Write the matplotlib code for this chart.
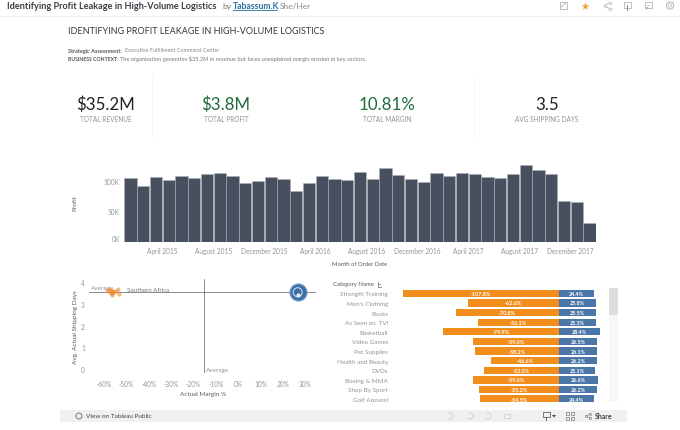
import matplotlib
matplotlib.use("Agg")
import matplotlib.pyplot as plt
from matplotlib.patches import Rectangle, Circle, Arc, Polygon
from matplotlib.transforms import Bbox

plt.rcParams['font.family'] = ['Lato', 'Open Sans', 'DejaVu Sans']

profit_k = [104.9, 91.8, 106.6, 101, 108, 105, 111.5, 113, 108.7, 96, 99.5, 106, 102.7,
            83, 96.7, 108, 104, 101, 114.8, 103.8, 121, 110, 102.7, 98, 113, 109, 113,
            111, 106.6, 105, 111, 126, 117.5, 111.5, 66.7, 65, 31.7]
month_ticks = [3, 7, 11, 15, 19, 23, 27, 31, 35]
month_labels = ['April 2015', 'August 2015', 'December 2015', 'April 2016', 'August 2016',
                'December 2016', 'April 2017', 'August 2017', 'December 2017']
profit_ticks = [0, 50, 100]
profit_labels = ['0K', '50K', '100K']

orange_margin = [-58.8, -58, -57.4, -57, -56.5, -56.1, -55.5, -54.8, -54, -53.4, -57.2, -56.6]
orange_days = [3.62, 3.7, 3.55, 3.62, 3.48, 3.6, 3.55, 3.6, 3.68, 3.45, 3.5, 3.42]
avg_margin = -15.3
avg_days = 3.53
blue_margin = 26.7
blue_days = 3.53
margin_ticks = [-60, -50, -40, -30, -20, -10, 0, 10, 20, 30]
days_ticks = [0, 1, 2, 3, 4]

categories = ['Strength Training', "Men's Clothing", 'Books', 'As Seen on  TV!', 'Basketball',
              'Video Games', 'Pet Supplies', 'Health and Beauty', 'DVDs', 'Boxing & MMA',
              'Shop By Sport', 'Golf Apparel']
neg_margin = [-107.8, -62.6, -70.8, -56.1, -79.9, -59.0, -58.2, -46.6, -52.0, -59.6, -55.2, -54.5]
pos_margin = [24.4, 25.8, 25.5, 25.3, 28.4, 26.5, 26.1, 26.2, 25.1, 26.6, 26.2, 24.4]

kpi_values = ['$35.2M', '$3.8M', '10.81%', '3.5']
kpi_names = ['TOTAL REVENUE', 'TOTAL PROFIT', 'TOTAL MARGIN', 'AVG SHIPPING DAYS']

W, H = 680, 431
GREY = '#8f9499'
DARK = '#555a60'
NAVY = '#484f5e'
ORANGE = '#f28e1c'
BLUE = '#4a76a8'
GREEN = '#1f6b3a'

fig = plt.figure(figsize=(W / 100, H / 100), dpi=100, facecolor='white')


def ax_px(l, t, r, b, **kw):
    return fig.add_axes([l / W, 1 - b / H, (r - l) / W, (b - t) / H], **kw)


def clean(ax):
    for s in ax.spines.values():
        s.set_visible(False)
    ax.patch.set_alpha(0)


# overlay in pixel coordinates for page furniture
pg = ax_px(0, 0, W, H)
pg.set_xlim(0, W)
pg.set_ylim(H, 0)
pg.axis('off')

pg.text(7, 6.5, 'Identifying Profit Leakage in High-Volume Logistics', fontsize=6.6,
        fontweight='bold', color='#3a3f45', va='center')
pg.text(222, 6.5, 'by', fontsize=6.0, color='#777', va='center')
pg.text(233, 6.5, 'Tabassum.K', fontsize=6.2, color='#2b6f9e', va='center', fontweight='bold')
pg.plot([233, 277], [10.5, 10.5], color='#2b6f9e', lw=0.6)
pg.text(280, 6.5, 'She/Her', fontsize=6.0, color='#888', va='center')
pg.plot([0, W], [16.5, 16.5], color='#f0f0f0', lw=0.8)

pg.text(68, 32, 'IDENTIFYING PROFIT LEAKAGE IN HIGH-VOLUME LOGISTICS', fontsize=6.45,
        color='#33383d', va='center')
pg.text(68, 51, 'Strategic Assessment:', fontsize=4.0, fontweight='bold', color='#555', va='center')
pg.text(125, 51, 'Executive Fulfillment Command Center', fontsize=4.0, color='#888', va='center')
pg.text(68, 59.5, 'BUSINESS CONTEXT:', fontsize=3.7, fontweight='bold', color='#555', va='center')
pg.text(119.5, 59.5, 'The organization generates $35.2M in revenue but faces unexplained margin erosion in key sectors.',
        fontsize=4.1, color='#777', va='center')

for x, v, n, c in zip([105.5, 226, 387, 547], kpi_values, kpi_names,
                      ['#222222', GREEN, GREEN, '#222222']):
    pg.text(x, 105, v, fontsize=12.2, color=c, ha='center', va='center')
    pg.text(x, 119.5, n, fontsize=4.7, color=GREY, ha='center', va='center')
for x in [152, 474]:
    pg.plot([x, x], [75, 140], color='#f6f6f6', lw=0.6)

# monthly profit bars
a1 = ax_px(124, 160, 596, 243)
clean(a1)
a1.bar(range(len(profit_k)), profit_k, width=0.96, color=NAVY, edgecolor='#a9b0ba', linewidth=0.4)
a1.set_xlim(-0.5, len(profit_k) - 0.5)
a1.set_ylim(0, 83 / 0.61)
a1.set_xticks([i - 0.5 for i in month_ticks], month_labels)
a1.set_yticks(profit_ticks, profit_labels)
a1.tick_params(length=0, labelsize=4.7, labelcolor=GREY, pad=3.3)
a1.get_yticklabels()[0].set_va('bottom')
pg.text(75, 203, 'Profit', fontsize=4.6, color=DARK, rotation=90, ha='center', va='center')
pg.text(359.5, 264.5, 'Month of Order Date', fontsize=4.2, color=DARK, ha='center', va='center')

# scatter
x0, k = 104.3, 2.23
a2 = ax_px(89, 280, 316, 374)
clean(a2)
a2.set_xlim(-60 + (89 - x0) / k, -60 + (316 - x0) / k)
a2.set_ylim(-4 / 21.75, 4 + 3 / 21.75)
a2.axhline(avg_days, color='#777', lw=0.6, zorder=1)
a2.axvline(avg_margin, color='#777', lw=0.6, zorder=1)
a2.scatter(orange_margin, orange_days, s=9, color='#f0882a', alpha=0.6, lw=0, zorder=2)
a2.scatter([blue_margin], [blue_days], s=170, color='#6d97c2', lw=0, zorder=3)
a2.scatter([blue_margin], [blue_days], s=125, color='#3b6fa6', lw=0, zorder=4)
a2.scatter([blue_margin], [blue_days], s=42, facecolor='none', edgecolor='#dfe8f1', lw=0.7, zorder=5)
a2.scatter([blue_margin], [blue_days - 0.12], s=9, color='#e8eef5', lw=0, zorder=6)
a2.set_xticks(margin_ticks, [f'{v}%' for v in margin_ticks])
a2.set_yticks(days_ticks, [str(v) for v in days_ticks])
a2.tick_params(length=0, labelsize=4.7, labelcolor=GREY)
a2.tick_params(axis='x', pad=5)
a2.tick_params(axis='y', pad=3)
pg.text(91, 289, 'Average', fontsize=4.6, color=GREY, va='center')
pg.text(127, 291, 'Southern Africa', fontsize=4.4, color='#777', va='center')
pg.text(206, 371, 'Average', fontsize=4.6, color=GREY, va='center')
pg.text(75, 327, 'Avg. Actual Shipping Days', fontsize=4.6, color=DARK, rotation=90, ha='center', va='center')
pg.text(203, 395, 'Actual Margin %', fontsize=4.6, color=DARK, ha='center', va='center')

# diverging bars, clipped by the scrolling view
row = 9.6
a3 = ax_px(391, 289.5, 605, 402.5)
clean(a3)
ys = list(range(len(categories)))
a3.barh(ys, neg_margin, height=0.76, color=ORANGE)
a3.barh(ys, pos_margin, height=0.76, color=BLUE)
a3.set_xlim((391 - 559) / 1.45, (605 - 559) / 1.45)
a3.set_ylim(-0.5 + (402.5 - 289.5) / row - 0.02, -0.5)
a3.set_yticks(ys, categories)
a3.set_xticks([])
a3.tick_params(length=0, labelsize=4.5, labelcolor=GREY, pad=2)
view_box = Bbox([[0, H - 402.5], [W, H]])
for lbl in a3.get_yticklabels():
    lbl.set_clip_box(view_box)
    lbl.set_clip_on(True)
for y, n, p in zip(ys, neg_margin, pos_margin):
    a3.text(n / 2, y, f'{n:.1f}%', color='white', fontsize=3.9, fontweight='bold',
            ha='center', va='center', clip_on=True)
    a3.text(p / 2, y, f'{p:.1f}%', color='white', fontsize=3.9, fontweight='bold',
            ha='center', va='center', clip_on=True)
pg.text(333, 285, 'Category Name', fontsize=4.3, color=DARK, va='center')
pg.plot([378, 378], [282.5, 287.5], color=DARK, lw=0.5)
pg.plot([379, 380.5], [287.5, 287.5], color=DARK, lw=0.5)
pg.plot([379, 379.8], [285, 285], color=DARK, lw=0.5)

# scrollbar
pg.add_patch(Rectangle((609, 289), 9, 113, color='#f7f7f7', lw=0))
pg.add_patch(Rectangle((609, 289), 9, 27, color='#dedede', lw=0))

# footer band
pg.add_patch(Rectangle((60, 411), 567, 12.5, color='#f0f0f0', lw=0))
pg.add_patch(Circle((79, 417), 3, facecolor='none', edgecolor='#666', lw=0.6))
pg.text(85.5, 417, 'View on Tableau Public', fontsize=4.6, color='#444', va='center')
pg.text(595, 417, 'Share', fontsize=5.0, color='#444', va='center', fontweight='bold')
for x in [450, 470, 488]:
    pg.add_patch(Arc((x, 417), 6, 6, theta1=-120, theta2=150, color='#d4d4d4', lw=0.8))
pg.add_patch(Rectangle((504, 415), 6, 4, facecolor='none', edgecolor='#d4d4d4', lw=0.7))
pg.add_patch(Polygon([(516, 416), (519, 416), (517.5, 418)], color='#dddddd', lw=0))
pg.add_patch(Rectangle((542.5, 413.5), 7, 5, facecolor='none', edgecolor='#666', lw=0.6))
pg.plot([546, 546], [418.5, 421], color='#666', lw=0.7)
pg.add_patch(Polygon([(552, 416), (556, 416), (554, 418.5)], color='#444', lw=0))
for cx in [567.5, 572.5]:
    for cy in [414.5, 419.5]:
        pg.add_patch(Rectangle((cx - 1.3, cy - 1.3), 2.6, 2.6, facecolor='none', edgecolor='#777', lw=0.5))
pg.plot([590, 586, 590], [415, 417, 419], color='#777', lw=0.4)
pg.scatter([586, 590, 590], [417, 415, 419], s=2.5, facecolor='#f0f0f0', edgecolor='#666', lw=0.4, zorder=5)

# header icons
ICON = '#b4b4b4'
pg.scatter([585], [6.5], marker='*', s=36, color='#f0a33c', lw=0)
pg.add_patch(Rectangle((559.5, 3), 7, 6.5, facecolor='none', edgecolor=ICON, lw=0.6))
pg.plot([561, 566], [8, 4], color=ICON, lw=0.6)
pg.plot([609.5, 604.5, 609.5], [3.5, 6.5, 9.5], color=ICON, lw=0.5)
pg.scatter([604.5, 609.5, 609.5], [6.5, 3.5, 9.5], s=4, facecolor='white', edgecolor=ICON, lw=0.5, zorder=5)
pg.add_patch(Rectangle((623.5, 3), 7, 5.5, facecolor='none', edgecolor=ICON, lw=0.6))
pg.plot([627, 627], [6, 10.5], color='#888', lw=0.7)
pg.add_patch(Rectangle((644.5, 3), 7, 5.5, facecolor='none', edgecolor=ICON, lw=0.6))
pg.add_patch(Polygon([(646, 8.5), (648, 8.5), (646, 10.5)], facecolor='none', edgecolor=ICON, lw=0.5))
pg.plot([647, 649], [5.7, 5.7], color=ICON, lw=0.6)
pg.add_patch(Circle((670, 6.5), 3.6, facecolor='none', edgecolor=ICON, lw=0.7))
pg.add_patch(Circle((670, 6.5), 1.7, facecolor='none', edgecolor=ICON, lw=0.5))

fig.savefig('out.png', dpi=100)
